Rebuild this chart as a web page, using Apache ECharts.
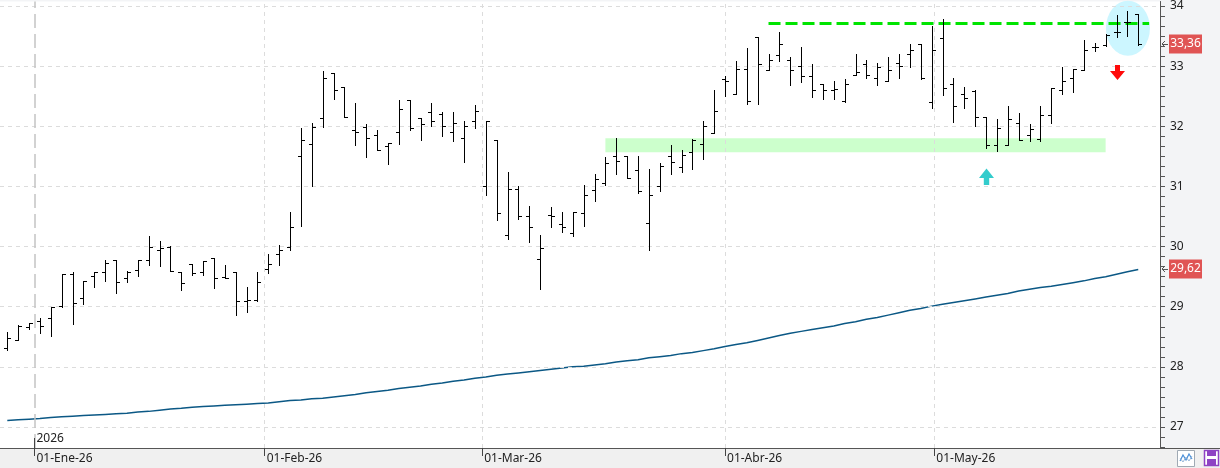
<!DOCTYPE html>
<html><head><meta charset="utf-8">
<script src="https://cdn.jsdelivr.net/npm/echarts@6/dist/echarts.min.js"></script>
<style>html,body{margin:0;padding:0;background:#f3f4f6}#c{width:1220px;height:468px}</style>
</head><body><div id="c"></div><script>
// ---------- DATA ----------
const dates = [
'2025-12-29','2025-12-30','2025-12-31',
'2026-01-02','2026-01-05','2026-01-06','2026-01-07','2026-01-08','2026-01-09','2026-01-12','2026-01-13','2026-01-14','2026-01-15','2026-01-16','2026-01-19','2026-01-20','2026-01-21','2026-01-22','2026-01-23','2026-01-26','2026-01-27','2026-01-28','2026-01-29','2026-01-30',
'2026-02-02','2026-02-03','2026-02-04','2026-02-05','2026-02-06','2026-02-09','2026-02-10','2026-02-11','2026-02-12','2026-02-13','2026-02-16','2026-02-17','2026-02-18','2026-02-19','2026-02-20','2026-02-23','2026-02-24','2026-02-25','2026-02-26','2026-02-27',
'2026-03-02','2026-03-03','2026-03-04','2026-03-05','2026-03-06','2026-03-09','2026-03-10','2026-03-11','2026-03-12','2026-03-13','2026-03-16','2026-03-17','2026-03-18','2026-03-19','2026-03-20','2026-03-23','2026-03-24','2026-03-25','2026-03-26','2026-03-27','2026-03-30','2026-03-31',
'2026-04-01','2026-04-02','2026-04-07','2026-04-08','2026-04-09','2026-04-10','2026-04-13','2026-04-14','2026-04-15','2026-04-16','2026-04-17','2026-04-20','2026-04-21','2026-04-22','2026-04-23','2026-04-24','2026-04-27','2026-04-28','2026-04-29','2026-04-30',
'2026-05-04','2026-05-05','2026-05-06','2026-05-07','2026-05-08','2026-05-11','2026-05-12','2026-05-13','2026-05-14','2026-05-15','2026-05-18','2026-05-19','2026-05-20','2026-05-21','2026-05-22','2026-05-25','2026-05-26','2026-05-27','2026-05-28'
];
const opens = [
28.32,28.44,28.66,28.76,28.81,29.01,29.54,29.14,29.51,29.58,
29.78,29.48,29.61,29.78,29.94,30.00,29.57,29.71,29.57,29.81,
29.49,29.57,29.10,29.12,29.63,29.88,30.00,31.50,31.70,32.13,
32.89,32.66,31.94,31.98,31.85,31.68,31.90,32.43,32.14,32.24,
32.20,31.90,31.81,32.08,31.00,31.77,30.20,30.96,30.51,29.80,
30.53,30.38,30.23,30.55,30.94,31.06,31.50,31.50,31.27,30.40,
31.00,31.50,31.32,31.57,31.71,31.89,32.79,32.53,32.95,33.49,
32.93,33.19,33.11,33.00,32.83,32.71,32.60,32.42,32.85,33.03,
32.80,32.75,33.06,33.21,33.37,32.41,33.46,32.71,32.53,32.58,
32.15,31.69,31.69,32.05,31.86,31.79,32.19,32.60,32.80,32.93,
33.31,33.35,33.57,33.74,33.87];
const highs = [
28.58,28.70,28.73,28.82,29.00,29.54,29.57,29.43,29.57,29.77,
29.78,29.60,29.77,30.18,30.09,30.01,29.57,29.71,29.76,29.81,
29.70,29.57,29.32,29.57,29.88,30.02,30.57,31.97,32.05,32.92,
32.89,32.66,32.38,32.04,31.93,31.72,32.44,32.43,32.14,32.38,
32.23,32.23,32.09,32.35,32.09,31.77,31.24,31.00,30.68,30.20,
30.66,30.58,30.58,31.02,31.20,31.49,31.81,31.50,31.50,31.29,
31.39,31.69,31.60,31.79,32.08,32.60,32.83,33.09,33.30,33.49,
33.21,33.57,33.16,33.31,33.03,32.71,32.75,32.78,33.21,33.11,
33.06,33.16,33.21,33.36,33.37,33.67,33.78,32.80,32.65,32.60,
32.15,32.12,32.34,32.22,32.04,32.34,32.63,32.98,32.95,33.44,
33.39,33.54,33.85,33.92,33.87];
const lows = [
28.28,28.44,28.63,28.56,28.52,29.00,28.71,29.04,29.32,29.42,
29.22,29.41,29.51,29.69,29.68,29.60,29.28,29.53,29.52,29.31,
29.48,28.86,28.92,29.10,29.56,29.69,29.94,30.35,31.01,31.99,
32.46,32.16,31.69,31.49,31.60,31.38,31.71,31.93,31.77,32.00,
31.84,31.76,31.41,31.97,30.85,30.44,30.12,30.46,30.08,29.30,
30.33,30.24,30.18,30.34,30.76,31.02,31.21,31.14,30.89,29.95,
30.92,31.21,31.24,31.29,31.46,31.89,32.51,32.53,32.37,32.37,
32.93,33.09,32.68,32.73,32.49,32.45,32.45,32.41,32.85,32.81,
32.68,32.75,32.81,32.98,32.78,32.30,32.52,32.07,32.31,32.01,
31.64,31.59,31.69,31.77,31.76,31.76,32.05,32.53,32.57,32.93,
33.26,33.34,33.49,33.50,33.35];
const closes = [
28.48,28.68,28.73,28.68,29.00,29.54,29.07,29.43,29.57,29.72,
29.41,29.57,29.77,29.99,29.98,29.60,29.39,29.56,29.76,29.48,
29.48,29.09,29.11,29.41,29.71,29.95,30.32,31.78,31.99,32.81,
32.61,32.16,31.90,31.81,31.60,31.72,32.28,31.97,32.03,32.09,
32.00,32.05,32.00,32.26,32.09,30.55,30.96,30.51,30.33,29.97,
30.51,30.33,30.58,30.86,31.12,31.39,31.42,31.14,30.92,30.86,
31.34,31.40,31.52,31.77,32.00,32.26,32.75,32.95,32.42,33.03,
33.11,33.37,32.93,32.83,32.60,32.60,32.62,32.70,32.91,32.85,
32.98,32.93,33.01,33.27,32.80,33.27,32.63,32.34,32.47,32.15,
31.69,31.97,32.12,31.77,31.96,32.19,32.63,32.75,32.95,33.27,
33.31,33.52,33.57,33.74,33.36];
const sma = [
27.11,27.12,27.13,27.14,27.16,27.17,27.18,27.19,27.20,27.21,
27.22,27.23,27.25,27.26,27.28,27.30,27.31,27.33,27.34,27.35,
27.36,27.37,27.38,27.39,27.40,27.42,27.44,27.45,27.47,27.48,
27.50,27.52,27.54,27.57,27.59,27.61,27.64,27.66,27.68,27.71,
27.73,27.76,27.78,27.81,27.83,27.86,27.88,27.90,27.92,27.94,
27.96,27.98,28.00,28.01,28.03,28.05,28.08,28.10,28.12,28.15,
28.17,28.19,28.22,28.24,28.27,28.30,28.34,28.37,28.40,28.44,
28.48,28.52,28.56,28.59,28.62,28.65,28.68,28.72,28.75,28.79,
28.82,28.86,28.90,28.94,28.97,29.01,29.04,29.07,29.10,29.13,
29.16,29.19,29.22,29.26,29.29,29.32,29.34,29.37,29.40,29.43,
29.47,29.50,29.54,29.58,29.62];
const yTicks = [27, 28, 29, 30, 31, 32, 33, 34];
const monthStarts = ['2026-01-01','2026-02-01','2026-03-01','2026-04-01','2026-05-01'];
const monthLabels = ['01-Ene-26','01-Feb-26','01-Mar-26','01-Abr-26','01-May-26'];
const yearLabel = '2026';
// annotations (dates / prices)
const resistanceLevel = 33.71, resistanceFrom = '2026-04-09';
const supportHigh = 31.80, supportLow = 31.57, supportFrom = '2026-03-17', supportTo = '2026-05-25';
const upArrowDate = '2026-05-08', upArrowTip = 31.30;
const downArrowDate = '2026-05-26', downArrowTip = 32.77;
const circleCenterValue = 33.63, circleDate = '2026-05-27';

// ---------- helpers ----------
function dayNum(s){ const p = s.split('-').map(Number); return Date.UTC(p[0], p[1]-1, p[2]) / 86400000; }
const dayNums = dates.map(dayNum);
function datePos(s){
  const t = dayNum(s);
  for (let i = 0; i < dayNums.length - 1; i++) {
    if (dayNums[i] <= t && t <= dayNums[i+1]) return i + (t - dayNums[i]) / (dayNums[i+1] - dayNums[i]);
  }
  return -1;
}
const monthPos = monthStarts.map(datePos);
const idx = d => dates.indexOf(d);
const yMinorTicks = [];
for (let k = 160; k <= 204; k++) yMinorTicks.push(k / 6);
const fmt = v => v.toFixed(2).replace('.', ',');
const N = dates.length;
const xMin = -0.671, xMax = 106.0, yMin = 26.651, yMax = 34.075;

const chart = echarts.init(document.getElementById('c'), null, {renderer: 'canvas'});
const FONT = "'Noto Sans', 'Liberation Sans', sans-serif";

const option = {
  animation: false,
  backgroundColor: '#f3f4f6',
  textStyle: {fontFamily: FONT},
  grid: {left: 0, right: 60, top: 0, bottom: 20, show: true, backgroundColor: '#ffffff', borderWidth: 0},
  xAxis: {
    type: 'value', min: xMin, max: xMax,
    axisLine: {show: false, onZero: false}, splitLine: {show: false},
    axisTick: {show: true, customValues: monthPos, length: 8, lineStyle: {color: '#444'}},
    axisLabel: {
      customValues: monthPos, align: 'left', margin: 5, padding: [0, 0, 0, 2],
      color: '#222', fontSize: 12, fontFamily: FONT,
      formatter: v => { let b = 0; monthPos.forEach((p, k) => { if (Math.abs(p - v) < Math.abs(monthPos[b] - v)) b = k; }); return monthLabels[b]; }
    }
  },
  yAxis: {
    type: 'value', position: 'right', min: yMin, max: yMax,
    axisLine: {show: true, onZero: false, lineStyle: {color: '#555'}}, splitLine: {show: false},
    axisTick: {show: true, customValues: yMinorTicks, length: 5, lineStyle: {color: '#555'}},
    axisLabel: {customValues: yTicks, formatter: v => String(Math.round(v)), margin: 10, color: '#222', fontSize: 12, fontFamily: FONT}
  },
  graphic: [
    {type: 'rect', shape: {x: 0, y: 448, width: 1220, height: 20}, style: {fill: '#f0f0f0'}, z: -1, silent: true},
    {type: 'line', shape: {x1: 0, y1: 448.5, x2: 1220, y2: 448.5}, style: {stroke: '#555', lineWidth: 1}, silent: true},
    {type: 'rect', shape: {x: 1177.5, y: 450.5, width: 17, height: 16}, style: {fill: '#ffffff', stroke: '#a0aab4', lineWidth: 1}, silent: true},
    {type: 'polyline', shape: {points: [[1180, 461], [1183, 455], [1186, 460], [1189, 454], [1192, 459]]}, style: {stroke: '#4a90d9', lineWidth: 1.2, fill: null}, silent: true},
    {type: 'polyline', shape: {points: [[1180, 458], [1183, 462], [1186, 457], [1189, 461], [1192, 456]]}, style: {stroke: '#9ab8d8', lineWidth: 1, fill: null}, silent: true},
    {type: 'rect', shape: {x: 1204.5, y: 450.5, width: 14, height: 15}, style: {fill: '#ffffff', stroke: '#8e44c4', lineWidth: 1.5}, silent: true},
    {type: 'rect', shape: {x: 1207, y: 451, width: 9, height: 5}, style: {fill: '#8e44c4'}, silent: true},
    {type: 'rect', shape: {x: 1207, y: 459, width: 9, height: 6}, style: {fill: '#8e44c4'}, silent: true}
  ],
  series: [
    { // gridlines
      type: 'line', data: [], z: 1, silent: true,
      markLine: {
        silent: true, symbol: ['none', 'none'], label: {show: false}, animation: false,
        data: yTicks.map(v => ({yAxis: v, lineStyle: {color: '#dcdcdc', type: [4, 4], width: 1}}))
          .concat(monthPos.map((p, k) => ({xAxis: p, lineStyle: k === 0 ? {color: '#c4c4c4', type: [14, 6], width: 1.5} : {color: '#dcdcdc', type: [4, 4], width: 1}})))
      }
    },
    { // support band
      type: 'line', data: [], z: 2, silent: true,
      markArea: {silent: true, itemStyle: {color: '#ccffcc'}, label: {show: false},
        data: [[{coord: [idx(supportFrom), supportHigh]}, {coord: [idx(supportTo), supportLow]}]]}
    },
    { // highlight ellipse
      type: 'custom', z: 3, silent: true, clip: false, data: [[idx(circleDate) + 0.05, circleCenterValue]],
      encode: {x: 0, y: 1},
      renderItem: (params, api) => {
        const p = api.coord([api.value(0), api.value(1)]);
        return {type: 'circle', x: p[0], y: p[1], scaleX: 22 / 27.5, shape: {cx: 0, cy: 0, r: 27.5}, style: {fill: '#ccf6ff'}};
      }
    },
    { // moving average
      type: 'line', name: 'MA', z: 4, silent: true, symbol: 'none',
      data: sma.map((v, i) => [i, v]),
      lineStyle: {color: '#0b5885', width: 1.5}
    },
    { // OHLC bars
      type: 'custom', name: 'OHLC', z: 5, silent: true,
      data: dates.map((d, i) => [i, opens[i], highs[i], lows[i], closes[i]]),
      encode: {x: 0, y: [1, 2, 3, 4]},
      renderItem: (params, api) => {
        const i = api.value(0);
        const pO = api.coord([i, api.value(1)]);
        const pH = api.coord([i, api.value(2)]);
        const pL = api.coord([i, api.value(3)]);
        const pC = api.coord([i, api.value(4)]);
        const X = Math.round(pH[0]);
        const yo = Math.round(pO[1]) + 0.5, yc = Math.round(pC[1]) + 0.5;
        const st = {stroke: '#000', lineWidth: 1};
        return {type: 'group', children: [
          {type: 'line', shape: {x1: X + 0.5, y1: Math.round(pH[1]), x2: X + 0.5, y2: Math.round(pL[1]) + 1}, style: st},
          {type: 'line', shape: {x1: X - 3, y1: yo, x2: X + 1, y2: yo}, style: st},
          {type: 'line', shape: {x1: X, y1: yc, x2: X + 4, y2: yc}, style: st}
        ]};
      }
    },
    { // resistance dashed line
      type: 'line', data: [], z: 6, silent: true,
      markLine: {silent: true, symbol: ['none', 'none'], label: {show: false},
        lineStyle: {color: '#00e400', type: [12, 5], width: 3},
        data: [[{coord: [idx(resistanceFrom), resistanceLevel]}, {coord: [N, resistanceLevel]}]]}
    },
    { // arrows, tags, year label
      type: 'custom', z: 7, silent: true, clip: false, data: [[0, 30]],
      encode: {x: 0, y: 1},
      renderItem: (params, api) => {
        const cs = params.coordSys;
        const children = [];
        // up arrow
        const u = api.coord([idx(upArrowDate), upArrowTip]);
        const ux = Math.round(u[0]) + 0.5, uy = u[1];
        children.push({type: 'polygon', shape: {points: [[ux, uy], [ux + 7.5, uy + 9.5], [ux + 2.7, uy + 9.5], [ux + 2.7, uy + 16.5], [ux - 2.7, uy + 16.5], [ux - 2.7, uy + 9.5], [ux - 7.5, uy + 9.5]]}, style: {fill: '#33cccc'}});
        // down arrow
        const d = api.coord([idx(downArrowDate), downArrowTip]);
        const dx = Math.round(d[0]) + 0.5, dy = d[1];
        children.push({type: 'polygon', shape: {points: [[dx, dy], [dx + 7.5, dy - 9], [dx + 2.5, dy - 9], [dx + 2.5, dy - 15], [dx - 2.5, dy - 15], [dx - 2.5, dy - 9], [dx - 7.5, dy - 9]]}, style: {fill: '#ff0a0a'}});
        // year label and extended tick
        const jx = Math.round(api.coord([monthPos[0], yMin])[0]) + 0.5;
        const by = cs.y + cs.height;
        children.push({type: 'line', shape: {x1: jx, y1: by - 10, x2: jx, y2: by}, style: {stroke: '#444', lineWidth: 1}});
        children.push({type: 'text', x: jx + 2, y: by - 9, style: {text: yearLabel, fill: '#222', font: "12px " + FONT, textAlign: 'left', textVerticalAlign: 'middle'}});
        // value tags on right axis
        const ax = cs.x + cs.width;
        [closes[N - 1], sma[N - 1]].forEach(v => {
          const y = Math.round(api.coord([0, v])[1]);
          children.push({type: 'rect', shape: {x: ax + 9, y: y - 9.5, width: 33, height: 19}, style: {fill: '#e05454'}});
          children.push({type: 'text', x: ax + 25.5, y: y, style: {text: fmt(v), fill: '#ffffff', font: "12px " + FONT, textAlign: 'center', textVerticalAlign: 'middle'}});
          children.push({type: 'polyline', shape: {points: [[ax + 5, y - 3], [ax + 2, y], [ax + 5, y + 3]]}, style: {stroke: '#555', lineWidth: 1, fill: null}});
          children.push({type: 'line', shape: {x1: ax + 2, y1: y + 0.5, x2: ax + 8, y2: y + 0.5}, style: {stroke: '#555', lineWidth: 1}});
        });
        return {type: 'group', children};
      }
    }
  ]
};
chart.setOption(option);
</script></body></html>
